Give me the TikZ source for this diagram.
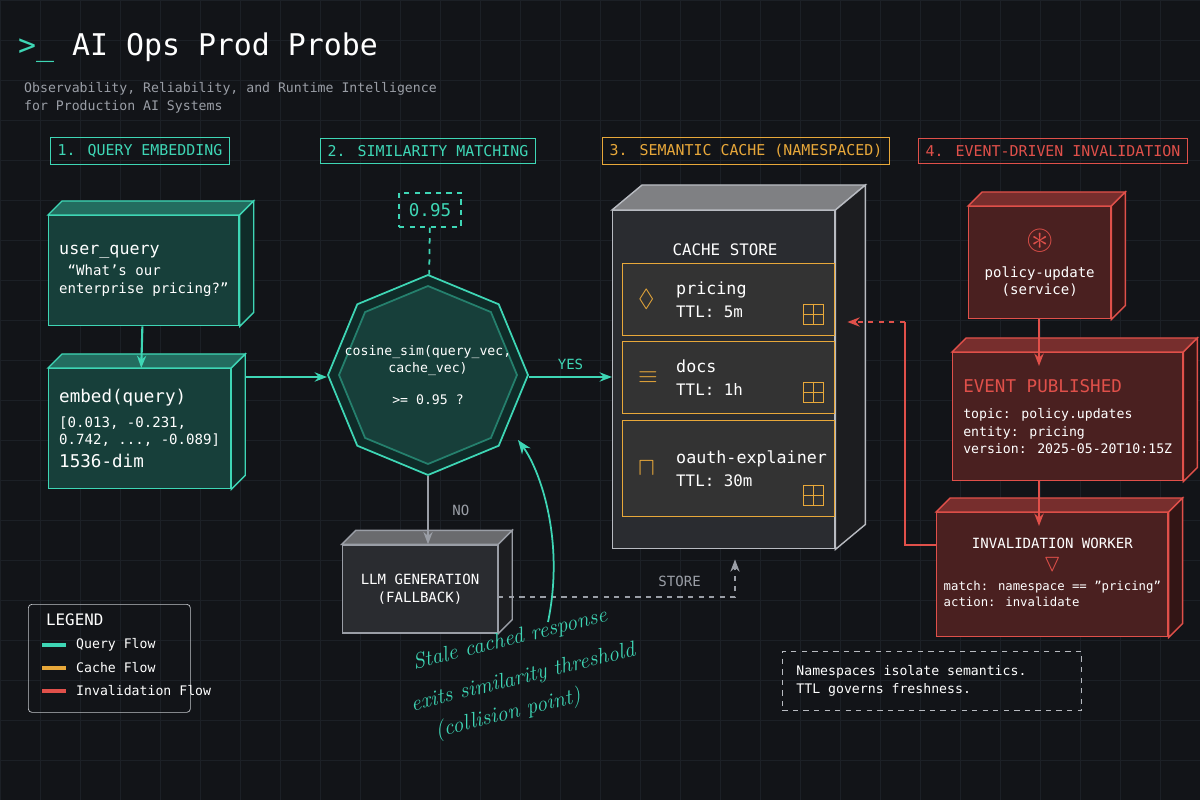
\documentclass[tikz,border=0pt]{standalone}
\usepackage{amssymb}
\usepackage{fontspec}
\setmainfont{DejaVu Sans Mono}
\setmonofont{DejaVu Sans Mono}
\newfontfamily\hand{Latin Modern Roman}
\usetikzlibrary{shapes.geometric,calc,arrows.meta,positioning}
\definecolor{bg}{HTML}{121418}
\definecolor{gridc}{HTML}{1C2026}
\definecolor{teal}{HTML}{3ED6B5}
\definecolor{tealbox}{HTML}{173F3A}
\definecolor{tealside}{HTML}{0F2B28}
\definecolor{orng}{HTML}{E8A83A}
\definecolor{redc}{HTML}{E0504A}
\definecolor{redbox}{HTML}{4A2020}
\definecolor{redside}{HTML}{331515}
\definecolor{greyc}{HTML}{9A9EA6}
\definecolor{greybox}{HTML}{2A2C30}
\definecolor{greyside}{HTML}{1C1D20}
\newdimen\px \px=0.02cm
\newcommand\faces[4]{% node, border colour, top fill, side fill
  \filldraw[#2,fill=#3,line width=.8pt] (#1.north west) -- ++(14,-14) -- ([shift={(14,-14)}]#1.north east) -- (#1.north east) -- cycle;
  \filldraw[#2,fill=#4,line width=.8pt] (#1.north east) -- ([shift={(14,-14)}]#1.north east) -- ([shift={(14,-14)}]#1.south east) -- (#1.south east) -- cycle;}
\begin{document}
\begin{tikzpicture}[x=0.02cm,y=-0.02cm,
  every node/.style={text=white,font=\fontsize{8}{10}\selectfont},
  sect/.style={draw=#1,text=#1,line width=.8pt,inner sep=4pt,font=\fontsize{8.5}{10}\selectfont},
  slab/.style={draw=#1,line width=.8pt,align=left,inner sep=6pt,anchor=north west},
  entry/.style={draw=orng,fill=black!80,line width=.8pt,minimum width=212\px,anchor=north west},
  octo/.style={regular polygon,regular polygon sides=8,shape border rotate=22.5,inner sep=0pt,line width=1pt},
  hw/.style={rotate=14,text=teal,inner sep=0pt,font=\hand\itshape\fontsize{12.5}{15}\selectfont},
  flow/.style={line width=1.2pt,-{Stealth[length=7pt]}},
  ]
\useasboundingbox (0,0) rectangle (1200,800);
\fill[bg] (0,0) rectangle (1200,800);
\foreach \g in {0,40,...,1200} \draw[gridc] (\g,0) -- (\g,800);
\foreach \g in {0,40,...,800} \draw[gridc] (0,\g) -- (1200,\g);

% title
\node[anchor=west,font=\fontsize{17}{20}\selectfont] (title) at (12,48) {\textcolor{teal}{>\_} AI Ops Prod Probe};
\node[anchor=north west,align=left,text=greyc,font=\fontsize{7.5}{10.5}\selectfont] (sub) at (18,76)
  {Observability, Reliability, and Runtime Intelligence\\for Production AI Systems};

% section labels
\node[sect=teal] (s1) at (140,151) {1. QUERY EMBEDDING};
\node[sect=teal] (s2) at (428,151) {2. SIMILARITY MATCHING};
\node[sect=orng] (s3) at (746,151) {3. SEMANTIC CACHE (NAMESPACED)};
\node[sect=redc] (s4) at (1053,151) {4. EVENT-DRIVEN INVALIDATION};

% query embedding
\node[slab=teal,fill=tealbox,minimum width=177\px,minimum height=110\px] (uq) at (48,215)
  {\fontsize{9.5}{12}\selectfont user\_query\\[2pt] \ “What's our\\ enterprise pricing?”};
\faces{uq}{teal}{tealbox!70!teal}{tealside}
\node[slab=teal,fill=tealbox,minimum width=177\px,minimum height=120\px] (emb) at (48,368)
  {\fontsize{10}{12}\selectfont embed(query)\\[4pt] [0.013, -0.231,\\ 0.742, ..., -0.089]\\[3pt] \fontsize{10}{12}\selectfont 1536-dim};
\faces{emb}{teal}{tealbox!70!teal}{tealside}
\draw[flow,teal] (uq) -- (emb);

% similarity
\coordinate (mid) at (0,377);
\node[octo,minimum size=200\px,draw=teal,fill=tealside] (oct) at (428,375) {};
\node[octo,minimum size=178\px,draw=teal!60!black,fill=tealbox] (octin) at (428,375) {};
\node[align=center,font=\fontsize{7.5}{10}\selectfont] (octt) at (428,375) {cosine\_sim(query\_vec,\\cache\_vec)\\[8pt]>= 0.95 ?};
\node[draw=teal,dashed,line width=.8pt,minimum width=62\px,minimum height=34\px,font=\fontsize{10}{12}\selectfont,text=teal] (thr) at (430,210) {0.95};
\draw[teal,dashed,line width=1pt] (thr) -- (oct);
\draw[flow,teal] ([xshift=14\px]emb.east |- mid) -- (mid -| oct.west);

% llm
\node[slab=greyc,fill=greybox,minimum width=155\px,minimum height=88\px,align=center,anchor=center,text=white!85] (llm) at (420,589) {LLM GENERATION\\(FALLBACK)};
\faces{llm}{greyc}{greybox!70!white}{greyside}
\draw[flow,greyc] (oct.south) -- node[right=10pt,text=greyc] {NO} (oct.south |- llm.north);

% cache store
\node[draw=greyc!70,fill=greybox,line width=.8pt,minimum width=222\px,minimum height=338\px,anchor=north west] (store) at (612,210) {};
\filldraw[greyc!70,fill=greybox!60!white,line width=.8pt] (store.north west) -- ++(30,-25) -- ([shift={(30,-25)}]store.north east) -- (store.north east) -- cycle;
\filldraw[greyc!70,fill=greyside,line width=.8pt] (store.north east) -- ([shift={(30,-25)}]store.north east) -- ([shift={(30,-25)}]store.south east) -- (store.south east) -- cycle;
\node[font=\fontsize{9}{11}\selectfont] (csl) at (725,250) {CACHE STORE};
\foreach \y/\h/\nm/\ttl/\ic [count=\i] in {263/72/pricing/5m/\(\lozenge\),341/72/docs/1h/\(\equiv\),420/96/oauth-explainer/30m/\(\sqcap\)}{
  \node[entry,minimum height=\h\px] (e\i) at (622,\y) {};
  \node[anchor=west,text=orng,font=\fontsize{14}{14}\selectfont] (ic\i) at ([xshift=10\px]e\i.west) {\ic};
  \node[anchor=west,align=left,font=\fontsize{9.5}{12}\selectfont] (nm\i) at ([xshift=48\px]e\i.west) {\nm\\[1pt]\fontsize{9}{11}\selectfont TTL: \ttl};
  \node[draw=orng,minimum size=20\px,inner sep=0pt,anchor=south east] (gr\i) at ([shift={(-12,-12)}]e\i.south east) {};
  \draw[orng] (gr\i.north) -- (gr\i.south) (gr\i.west) -- (gr\i.east);
}
\draw[flow,teal] (mid -| oct.east) -- node[above,text=teal] {YES} (mid -| store.west);

% store path
\coordinate (st) at (735,597);
\draw[greyc,dashed,line width=1pt,-{Stealth[length=7pt]}] (llm.east |- st) -- node[above right=2pt and 20pt,text=greyc] {STORE} (st) -- ([shift={(0,10)}]store.south -| st);

% invalidation
\node[slab=redc,fill=redbox,minimum width=142\px,minimum height=112\px,align=center,anchor=north west] (pol) at (968,206)
  {\textcolor{redc}{\fontsize{20}{20}\selectfont\(\circledast\)}\\[6pt]policy-update\\(service)};
\faces{pol}{redc}{redbox!70!redc}{redside}
\node[slab=redc,fill=redbox,minimum width=172\px,minimum height=128\px] (evt) at (952,352)
  {\textcolor{redc}{\fontsize{10}{12}\selectfont EVENT PUBLISHED}\\[5pt]\fontsize{7.5}{10}\selectfont topic: policy.updates\\\fontsize{7.5}{10}\selectfont entity: pricing\\\fontsize{7.5}{10}\selectfont version: 2025-05-20T10:15Z};
\faces{evt}{redc}{redbox!70!redc}{redside}
\node[slab=redc,fill=redbox,minimum width=215\px,minimum height=124\px,align=center,inner sep=4pt] (wrk) at (936,512)
  {\fontsize{8}{10}\selectfont INVALIDATION WORKER\\[3pt]\textcolor{redc}{\fontsize{14}{14}\selectfont\(\triangledown\)}\\[4pt]
   \fontsize{7}{9}\selectfont\begin{tabular}{@{}l@{}}match: namespace == "pricing"\\action: invalidate\end{tabular}};
\faces{wrk}{redc}{redbox!70!redc}{redside}
\coordinate (rx) at (1039,0);
\draw[flow,redc] (rx |- pol.south) -- ([yshift=-14\px]rx |- evt.north);
\draw[flow,redc] (rx |- evt.south) -- ([yshift=-14\px]rx |- wrk.north);
\coordinate (rv) at (905,545);
\draw[redc,line width=1.2pt] (wrk.west |- rv) -- (rv) -- (rv |- 0,322);
\draw[redc,dashed,line width=1.2pt,-{Stealth[length=7pt]}] (rv |- 0,322) -- ([xshift=12\px]e1.east |- 0,322);

% legend
\node[draw=greyc!60,rounded corners=2pt,minimum width=162\px,minimum height=108\px,anchor=north west] (leg) at (28,604) {};
\node[anchor=west,font=\fontsize{9}{11}\selectfont] (legt) at (40,620) {LEGEND};
\foreach \c/\t [count=\i] in {teal/Query Flow,orng/Cache Flow,redc/Invalidation Flow}{
  \draw[\c,line width=2pt] (42,622+23*\i) -- (66,622+23*\i);
  \node[anchor=west,text=white!80,font=\fontsize{7.5}{9}\selectfont] (lg\i) at (70,622+23*\i) {\t};
}

% note
\node[draw=greyc!70,dashed,align=left,text=white!80,font=\fontsize{7.5}{10}\selectfont,inner sep=8pt,minimum width=240\px,minimum height=56\px] (note) at (932,681)
  {Namespaces isolate semantics.\\TTL governs freshness.\hspace*{55pt}};

% annotation
\node[hw] (ann1) at (510,640) {Stale cached response};
\node[hw] (ann2) at (523,678) {exits similarity threshold};
\node[hw] (ann3) at (508,714) {(collision point)};
\draw[teal,line width=1pt,-{Stealth[length=8pt]}] (548,622) .. controls (565,540) and (540,470) .. (518,440);
\end{tikzpicture}
\end{document}
